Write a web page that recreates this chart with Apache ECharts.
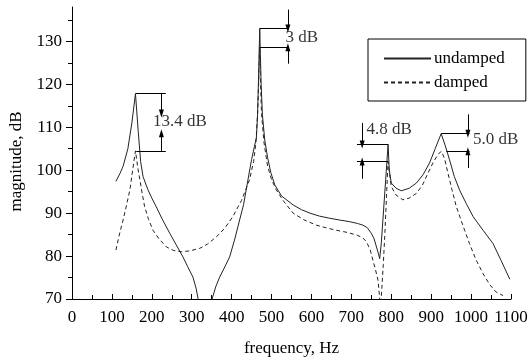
<!DOCTYPE html>
<html>
<head>
<meta charset="utf-8">
<script src="https://cdn.jsdelivr.net/npm/echarts@6/dist/echarts.min.js"></script>
<style>
  html, body { margin: 0; padding: 0; background: #fff; }
  #chart { width: 528px; height: 361px; }
</style>
</head>
<body>
<div id="chart"></div>
<script>
// frequency (Hz), magnitude (dB)
const undamped = [
  [110, 97.4], [120, 99.2], [128, 100.9], [140, 105], [150, 111], [159, 117.8],
  [166, 109], [172, 102], [178, 98.5], [190, 95.5], [200, 93.5], [211, 91.5],
  [225, 88.8], [245, 85.3], [260, 82.8], [278, 79.8], [290, 77.5], [303, 75.1],
  [311, 72.5], [316, 70], [320, 64], [345, 64], [351, 70], [360, 72.8],
  [370, 75.1], [383, 77.5], [395, 79.8], [408, 84], [420, 88.4], [430, 92],
  [441, 97.8], [450, 102.5], [457, 105.5], [462, 107.5], [465, 113], [467, 120],
  [469, 128], [470.5, 133], [472, 127], [474, 120], [477, 113], [483, 107],
  [490, 103], [498, 99.5], [508, 96.6], [525, 94], [554, 91.9], [575, 90.8],
  [596, 90], [620, 89.3], [646, 88.8], [670, 88.4], [696, 88], [715, 87.6],
  [729, 87.2], [740, 86.6], [750, 85.3], [757, 84], [763, 82.1], [768, 80.5],
  [771, 79.4], [775, 83], [779, 88.4], [786, 97.8], [792, 106], [795, 100],
  [800, 97], [812, 95.8], [825, 95.2], [845, 95.8], [863, 97], [880, 99],
  [896, 101.7], [910, 105], [925, 108.5], [935, 105.8], [946, 102.4], [958, 98.5],
  [971, 95.4], [988, 92.2], [1005, 89.2], [1030, 86], [1055, 82.9], [1075, 79],
  [1097, 74.6]
]

const damped = [
  [110, 81.4], [120, 85.5], [128, 88.4], [137, 92], [145, 95.4], [152, 100],
  [159, 104.5], [165, 100.5], [170, 97.8], [176, 94.5], [182, 91.5], [192, 88.5],
  [203, 86], [218, 84], [237, 82.1], [255, 81.3], [274, 81], [295, 81.2],
  [320, 81.8], [340, 82.8], [362, 84.5], [383, 86.5], [403, 89.2], [425, 93],
  [445, 97.8], [455, 102], [461, 106.5], [465, 113], [468, 121], [470, 128.6],
  [472, 121], [475, 113], [481, 106.5], [490, 101], [500, 97.8], [512, 95.4],
  [530, 92.8], [554, 90], [580, 88.5], [612, 87.2], [640, 86.5], [663, 86],
  [690, 85.5], [713, 84.9], [728, 84.3], [738, 83.3], [747, 81.5], [754, 79],
  [760, 77], [767, 74.3], [771, 70], [773, 64], [774, 64], [775, 70.4],
  [780, 78], [784, 85.3], [788, 94], [792, 102], [796, 99], [800, 96.2],
  [812, 94.2], [829, 93.1], [845, 93.5], [863, 94.6], [878, 96.5], [892, 99.3],
  [905, 101.8], [918, 103.8], [926, 104.4], [934, 102.5], [942, 99.3], [952, 95.5],
  [963, 91.5], [980, 87], [996, 82.9], [1012, 79.2], [1030, 75.9], [1047, 73.3],
  [1063, 71.6], [1080, 70.8]
]

const seriesNames = ['undamped', 'damped']
const yMajorTicks = [70, 80, 90, 100, 110, 120, 130]
const yMinorTicks = [75, 85, 95, 105, 115, 125, 135]

// peak-difference brackets: horizontal levels and the arrows between them
const bracketLines = [
  [[159, 117.8], [235, 117.8]], [[161, 104.5], [235, 104.5]],
  [[470.5, 133], [541, 133]], [[470, 128.6], [541, 128.6]],
  [[714, 106], [792, 106]], [[714, 102], [792, 102]],
  [[925, 108.5], [996, 108.5]], [[938, 104.4], [996, 104.4]]
]
const bracketArrows = [
  [[224, 117.8], [224, 113.2]], [[224, 104.5], [224, 108.6]],
  [[541, 137.4], [541, 133]], [[541, 124.8], [541, 128.6]],
  [[727, 111], [727, 106]], [[727, 98], [727, 102]],
  [[992, 113], [992, 108.5]], [[992, 100.5], [992, 104.4]]
]
const noteTexts = ['13.4 dB', '3 dB', '4.8 dB', '5.0 dB']
const notePos = [[203, 111.4], [535, 130.9], [738, 109.5], [1005, 107.1]]

const font = "'Liberation Serif', 'Times New Roman', Times, serif"
const ink = '#222'

const chart = echarts.init(document.getElementById('chart'), null, { renderer: 'canvas' })

const markData = bracketLines
  .map(([a, b]) => [{ coord: a, symbol: 'none' }, { coord: b, symbol: 'none' }])
  .concat(bracketArrows.map(([a, b]) => [
    { coord: a, symbol: 'none' },
    { coord: b, symbol: 'triangle', symbolSize: [5, 8] },
  ]))

chart.setOption({
  animation: false,
  grid: { left: 72, right: 17, top: 7, bottom: 62, outerBoundsMode: 'none' },
  legend: {
    data: seriesNames,
    orient: 'vertical',
    left: 368,
    top: 39,
    padding: [11, 21, 10, 15],
    itemWidth: 47,
    itemHeight: 16,
    itemGap: 7,
    borderColor: '#000',
    borderWidth: 1,
    itemStyle: { opacity: 0 },
    textStyle: { color: '#000', fontFamily: font, fontSize: 17, padding: [0, 0, 0, -2] },
  },
  xAxis: {
    type: 'value',
    min: 0,
    max: 1100,
    interval: 100,
    name: 'frequency, Hz',
    nameLocation: 'middle',
    nameGap: 41,
    nameTextStyle: { color: '#000', fontFamily: font, fontSize: 17 },
    axisLine: { onZero: false, lineStyle: { color: '#000', width: 1 } },
    axisTick: { inside: true, length: 5, lineStyle: { color: '#000' } },
    minorTick: { show: true, splitNumber: 2, length: 4, lineStyle: { color: '#000' } },
    axisLabel: {
      interval: 0,
      margin: 10,
      color: '#000',
      fontFamily: font,
      fontSize: 17,
      formatter: (v) => String(v),
    },
    splitLine: { show: false },
  },
  yAxis: [
    {
      type: 'value',
      min: 70,
      max: 138,
      interval: 10,
      name: 'magnitude, dB',
      nameLocation: 'middle',
      nameGap: 47,
      nameTextStyle: { color: '#000', fontFamily: font, fontSize: 17, padding: [0, 17, 0, 0] },
      axisLine: { show: true, onZero: false, lineStyle: { color: '#000', width: 1 } },
      axisTick: { length: 6, customValues: yMajorTicks, lineStyle: { color: '#000' } },
      axisLabel: { customValues: yMajorTicks, margin: 10, color: '#000', fontFamily: font, fontSize: 17 },
      splitLine: { show: false },
    },
    {
      type: 'value',
      min: 70,
      max: 138,
      interval: 10,
      position: 'left',
      axisLine: { show: false },
      axisTick: { length: 4, customValues: yMinorTicks, lineStyle: { color: '#000' } },
      axisLabel: { show: false },
      splitLine: { show: false },
    },
  ],
  series: [
    {
      name: 'undamped',
      type: 'line',
      data: undamped,
      symbol: 'none',
      lineStyle: { color: ink, width: 1 },
      itemStyle: { color: ink },
    },
    {
      name: 'damped',
      type: 'line',
      data: damped,
      symbol: 'none',
      lineStyle: { color: ink, width: 1, type: [4, 3] },
      itemStyle: { color: ink },
    },
    {
      name: 'brackets',
      type: 'line',
      data: [],
      markLine: {
        silent: true,
        animation: false,
        label: { show: false },
        lineStyle: { color: '#000', width: 1, type: 'solid' },
        itemStyle: { color: '#000' },
        emphasis: { disabled: true },
        data: markData,
      },
    },
    {
      name: 'notes',
      type: 'scatter',
      symbolSize: 0,
      silent: true,
      data: notePos.map((p, i) => ({
        value: p,
        label: { formatter: noteTexts[i] },
      })),
      label: {
        show: true,
        position: 'right',
        distance: 0,
        color: '#000',
        fontFamily: font,
        fontSize: 17,
      },
    },
  ],
})
</script>
</body>
</html>
